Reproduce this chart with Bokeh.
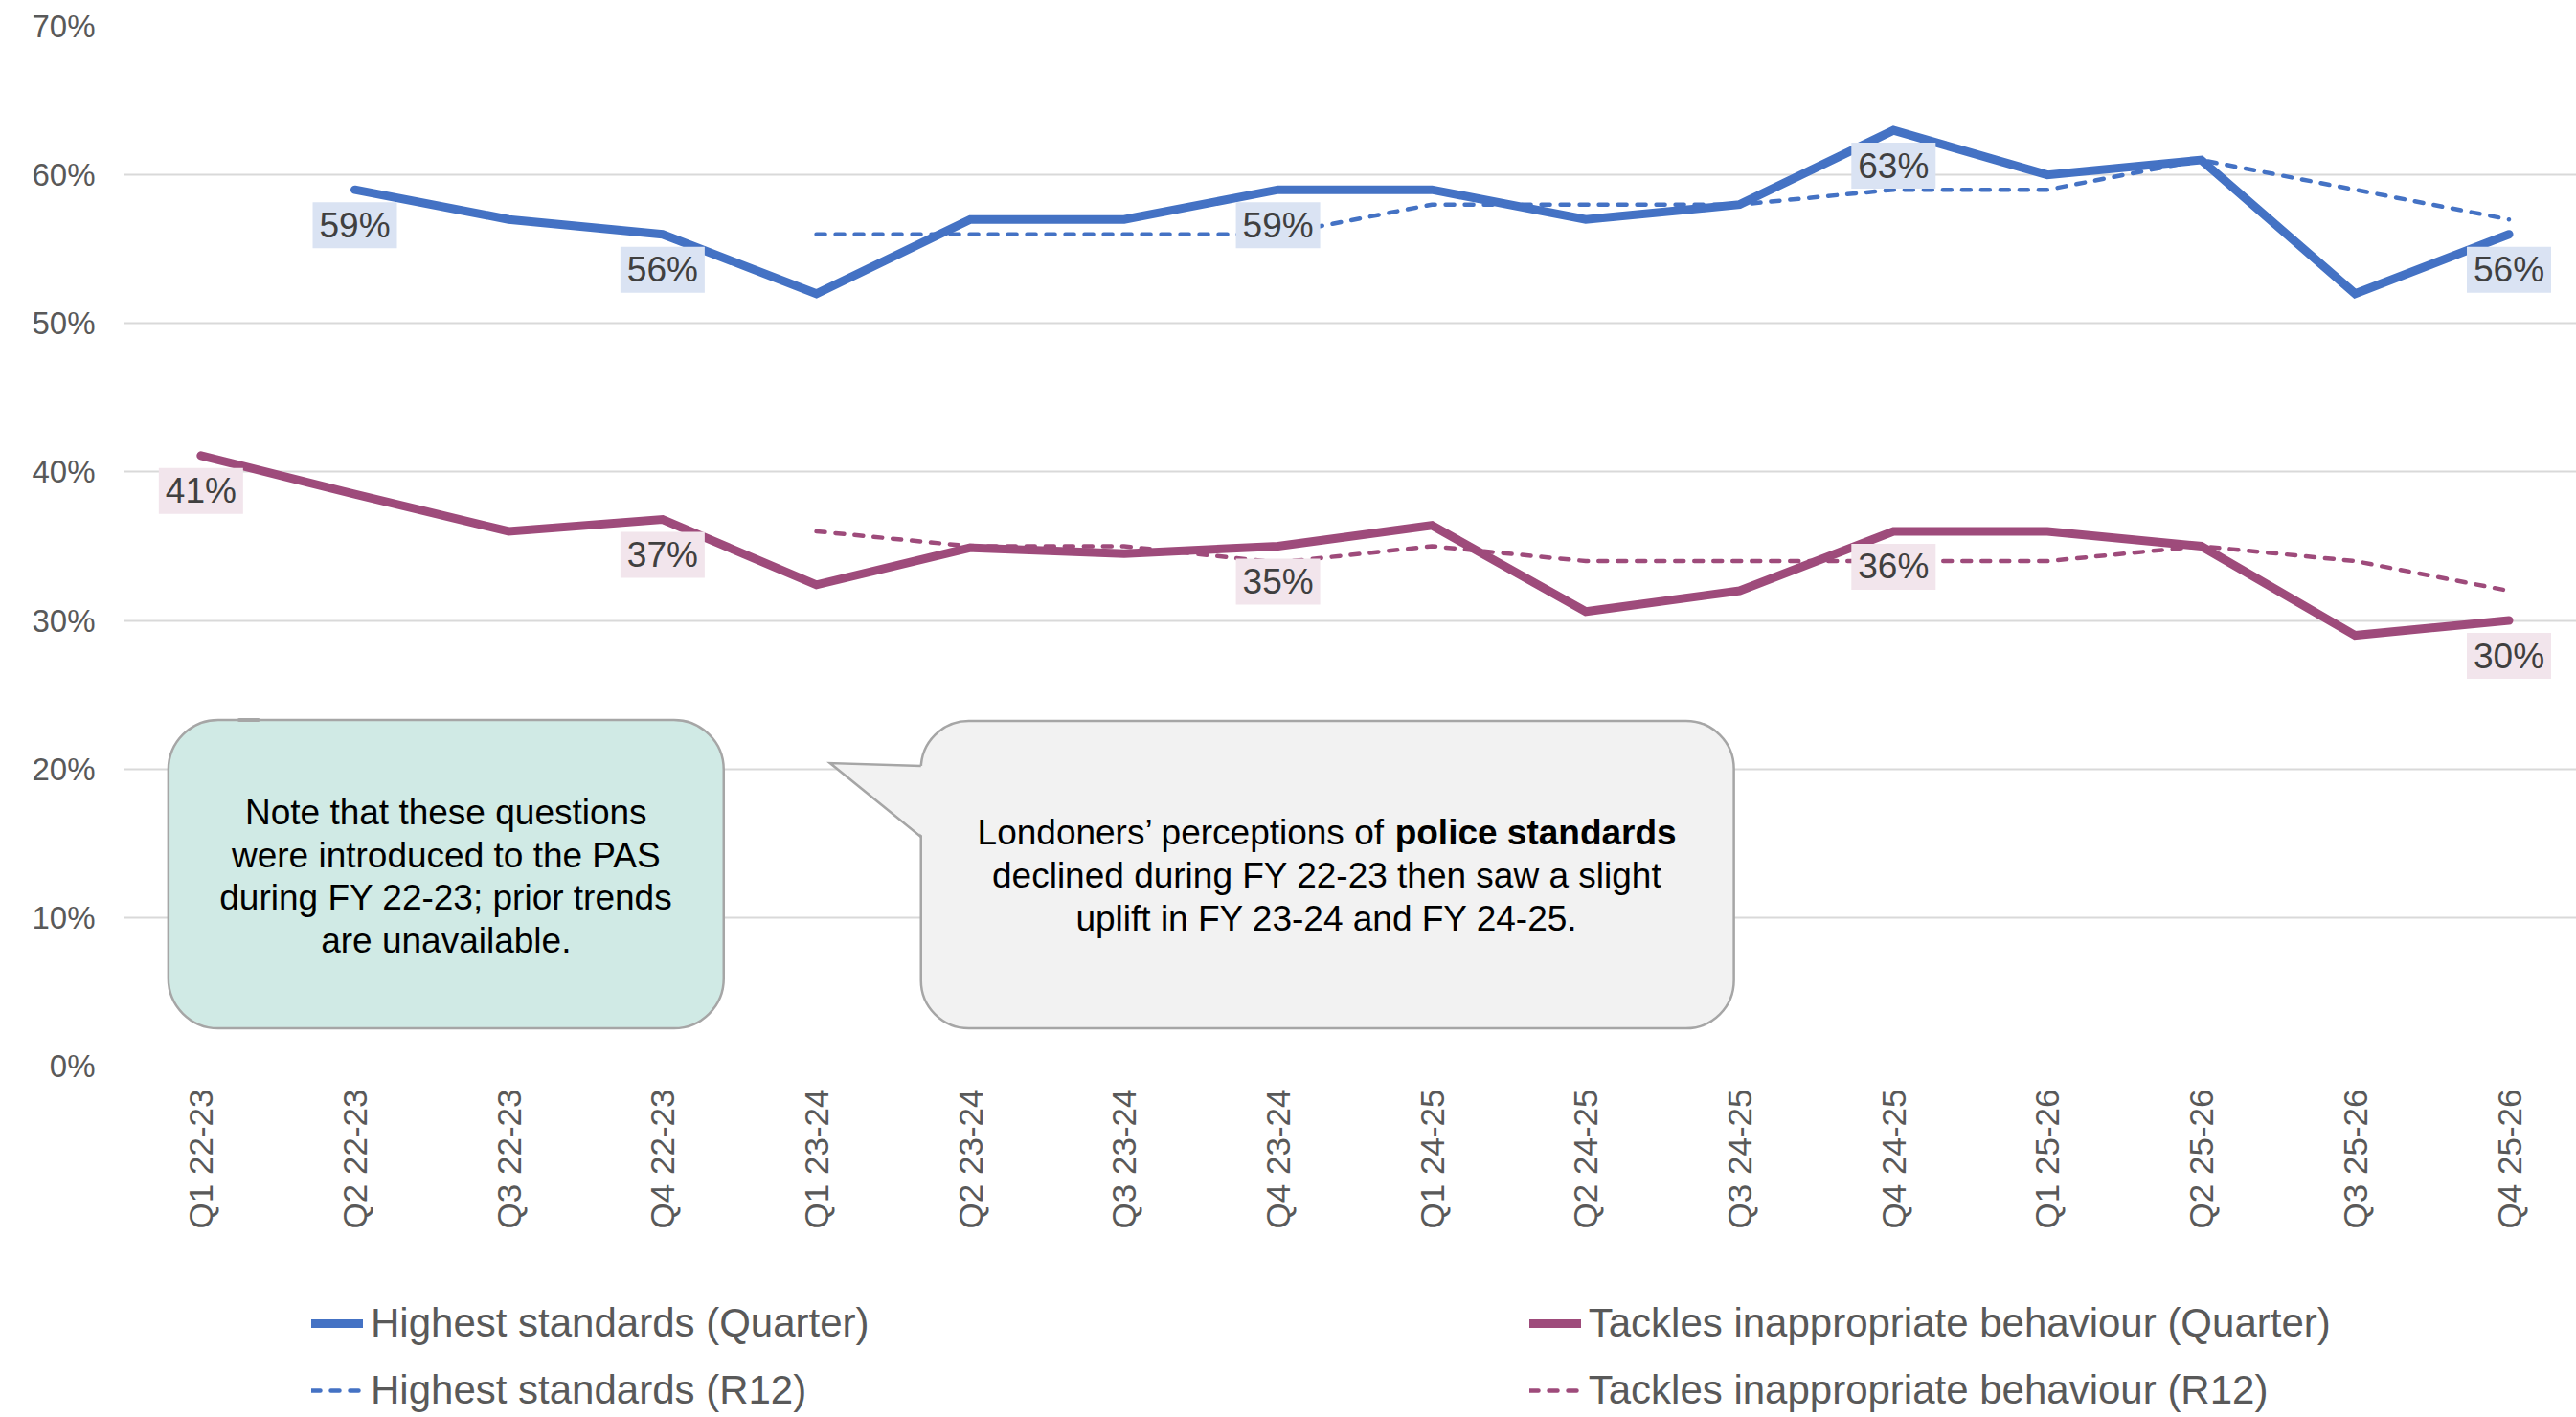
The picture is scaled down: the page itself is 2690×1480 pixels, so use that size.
import math
from bokeh.plotting import figure
from bokeh.layouts import column
from bokeh.models import FixedTicker, NumeralTickFormatter, Legend, LegendItem, BoxAnnotation
from bokeh.core.properties import value
from bokeh.embed import file_html
from bokeh.resources import INLINE

nan = float("nan")

# ---------------- data ----------------
categories = ["Q1 22-23", "Q2 22-23", "Q3 22-23", "Q4 22-23",
              "Q1 23-24", "Q2 23-24", "Q3 23-24", "Q4 23-24",
              "Q1 24-25", "Q2 24-25", "Q3 24-25", "Q4 24-25",
              "Q1 25-26", "Q2 25-26", "Q3 25-26", "Q4 25-26"]
hs_quarter = [nan, 59, 57, 56, 52, 57, 57, 59, 59, 57, 58, 63, 60, 61, 52, 56]
hs_r12 = [nan, nan, nan, nan, 56, 56, 56, 56, 58, 58, 58, 59, 59, 61, 59, 57]
tib_quarter = [41.1, 38.5, 36.0, 36.8, 32.4, 34.9, 34.5, 35.0, 36.4, 30.6, 32.0, 36.0, 36.0, 35.0, 29.0, 30.0]
tib_r12 = [nan, nan, nan, nan, 36.0, 35.0, 35.0, 33.9, 35.0, 34.0, 34.0, 34.0, 34.0, 35.0, 34.0, 32.0]
hs_label_idx = [1, 3, 7, 11, 15]
tib_label_idx = [0, 3, 7, 11, 15]
y_ticks = [0, 10, 20, 30, 40, 50, 60, 70]

series_names = ["Highest standards (Quarter)", "Highest standards (R12)",
                "Tackles inappropriate behaviour (Quarter)", "Tackles inappropriate behaviour (R12)"]

note_lines = ["Note that these questions", "were introduced to the PAS",
              "during FY 22-23; prior trends", "are unavailable."]
callout_first_plain = "Londoners\u2019 perceptions of"
callout_first_bold = "police standards"
callout_lines = ["declined during FY 22-23 then saw a slight", "uplift in FY 23-24 and FY 24-25."]

# ---------------- styling / geometry ----------------
W = 2690
H_MAIN, H_LEG = 1300, 180
FONT = "Liberation Sans"
BLUE = "#4472C4"
BERRY = "#9E4B7B"
GRID = "#D9D9D9"
AXIS_TXT = "#595959"
SOLID_W, DASH_W, DASH = 9, 4.5, "9 11"
FRAME_LEFT = 129

X0, DX = 209.0, 160.7     # px of first category centre, px per category
Y0, DY = 1113.4, 1551.0   # px of 0 %, px per 100 %


def fx(px):
    return (px - X0) / DX


def fy(py):
    return (Y0 - py) / DY


def frac(vals):
    return [v / 100 for v in vals]


xs = list(range(len(categories)))

p = figure(width=W, height=H_MAIN, output_backend="svg", toolbar_location=None,
           x_range=(-0.5, fx(W)), y_range=(0, 0.70),
           min_border_left=FRAME_LEFT, min_border_right=0, min_border_top=27,
           min_border_bottom=H_MAIN - 27 - 1086)
p.outline_line_color = None
p.background_fill_color = "white"
p.border_fill_color = "white"

# axes
p.yaxis.ticker = FixedTicker(ticks=[t / 100 for t in y_ticks])
p.yaxis.formatter = NumeralTickFormatter(format="0%")
p.yaxis.major_label_text_font = FONT
p.yaxis.major_label_text_font_size = "33px"
p.yaxis.major_label_text_color = AXIS_TXT
p.yaxis.major_label_standoff = 30
p.yaxis.axis_line_color = None
p.yaxis.major_tick_line_color = None
p.yaxis.minor_tick_line_color = None
p.yaxis.major_tick_out = 0
p.yaxis.major_tick_in = 0

p.xaxis.ticker = FixedTicker(ticks=xs)
p.xaxis.major_label_overrides = {i: c for i, c in enumerate(categories)}
p.xaxis.major_label_orientation = math.pi / 2
p.xaxis.major_label_text_font = FONT
p.xaxis.major_label_text_font_size = "35px"
p.xaxis.major_label_text_color = AXIS_TXT
p.xaxis.major_label_standoff = 24
p.xaxis.axis_line_color = None
p.xaxis.major_tick_line_color = None
p.xaxis.minor_tick_line_color = None
p.xaxis.major_tick_out = 0
p.xaxis.major_tick_in = 0

p.xgrid.visible = False
p.ygrid.ticker = FixedTicker(ticks=[t / 100 for t in y_ticks])
p.ygrid.grid_line_color = GRID
p.ygrid.grid_line_width = 2

# series
series = [
    (series_names[0], hs_quarter, BLUE, SOLID_W, "solid"),
    (series_names[1], hs_r12, BLUE, DASH_W, DASH),
    (series_names[2], tib_quarter, BERRY, SOLID_W, "solid"),
    (series_names[3], tib_r12, BERRY, DASH_W, DASH),
]
draw_order = [0, 2, 1, 3]
for k in draw_order:
    name, vals, color, lw, dash = series[k]
    p.line(xs, frac(vals), line_color=color, line_width=lw, line_dash=dash,
           line_cap="round", line_join="miter")

# data labels
LAB_OFF = 37 / DY
for idx, vals, fill in ((hs_label_idx, hs_quarter, "#DAE3F3"), (tib_label_idx, tib_quarter, "#F2E5EC")):
    ly = [vals[i] / 100 - LAB_OFF for i in idx]
    lt = [f"{round(vals[i])}%" for i in idx]
    p.rect(x=idx, y=ly, width=88, height=48, width_units="screen", height_units="screen",
           fill_color=fill, line_color=None)
    p.text(x=idx, y=ly, text=lt, text_align="center", text_baseline="middle",
           text_font=value(FONT), text_font_size="37px", text_color="#404040")

# note box
note_box = BoxAnnotation(left=fx(175), right=fx(755), top=fy(752), bottom=fy(1074),
                         fill_color="#D0EAE5", fill_alpha=1.0, line_color="#A6A6A6",
                         line_alpha=1.0, line_width=2.5, border_radius=52)
p.add_layout(note_box)
p.line([fx(249), fx(269)], [fy(752), fy(752)], line_color="#A6A6A6", line_width=4,
       line_cap="round", level="overlay")
note_cx, note_cy, LH = 465, 915.5, 44.5
n = len(note_lines)
p.text(x=[fx(note_cx)] * n,
       y=[fy(note_cy + (i - (n - 1) / 2) * LH) for i in range(n)],
       text=note_lines, text_align="center", text_baseline="middle",
       text_font=value(FONT), text_font_size="37px", text_color="black", level="overlay")

# callout box with pointer
call_box = BoxAnnotation(left=fx(961), right=fx(1810), top=fy(753), bottom=fy(1074),
                         fill_color="#F2F2F2", fill_alpha=1.0, line_color="#A6A6A6",
                         line_alpha=1.0, line_width=2.5, border_radius=50)
p.add_layout(call_box)
tip = (866, 797)
base_top = (961, 800)
base_bot = (961, 874)
p.patch([fx(tip[0]), fx(base_top[0] + 3), fx(base_bot[0] + 3)],
        [fy(tip[1]), fy(base_top[1]), fy(base_bot[1])],
        fill_color="#F2F2F2", line_color=None, level="overlay")
p.line([fx(base_top[0]), fx(tip[0]), fx(base_bot[0])],
       [fy(base_top[1]), fy(tip[1]), fy(base_bot[1])],
       line_color="#A6A6A6", line_width=2.5, line_join="miter", level="overlay")

call_cx = 1385
split_x = 1456
p.text(x=[fx(split_x - 10.3)], y=[fy(869)], text=[callout_first_plain], text_align="right",
       text_baseline="middle", text_font=value(FONT), text_font_size="37px", text_color="black",
       level="overlay")
p.text(x=[fx(split_x)], y=[fy(869)], text=[callout_first_bold], text_align="left",
       text_baseline="middle", text_font=value(FONT), text_font_size="37px", text_color="black",
       text_font_style="bold", level="overlay")
p.text(x=[fx(call_cx)] * 2, y=[fy(914.5), fy(959.5)], text=callout_lines, text_align="center",
       text_baseline="middle", text_font=value(FONT), text_font_size="37px", text_color="black",
       level="overlay")

# ---------------- legend strip (own figure under the chart) ----------------
lf = figure(width=W, height=H_LEG, output_backend="svg", toolbar_location=None,
            x_range=(100, 101), y_range=(0, 1), x_axis_location=None, y_axis_location=None,
            min_border_left=0, min_border_right=0, min_border_top=0, min_border_bottom=0)
lf.outline_line_color = None
lf.grid.visible = False
lf.background_fill_color = "white"
lf.border_fill_color = "white"

leg_renderers = []
for name, vals, color, lw, dash in series:
    leg_renderers.append(lf.line(xs, frac(vals), line_color=color, line_width=lw, line_dash=dash,
                                 line_cap="round", line_join="miter"))

LEG_TOP = 1356.7 - H_MAIN   # top of the legend block inside the strip
LEG_H = 50 + 20 + 50
for col, x_left in ((0, 325 - FRAME_LEFT), (1, 1596.7 - FRAME_LEFT)):
    items = [LegendItem(label=series[2 * col + r][0], renderers=[leg_renderers[2 * col + r]])
             for r in range(2)]
    lg = Legend(items=items, orientation="vertical",
                location=(x_left, H_LEG - LEG_TOP - LEG_H), margin=0, padding=0,
                spacing=20, glyph_width=54, glyph_height=50, label_height=50,
                label_standoff=8, label_text_font=FONT, label_text_font_size="42px",
                label_text_color=AXIS_TXT, border_line_color=None, background_fill_alpha=0)
    lf.add_layout(lg)

open("out.html", "w").write(file_html(column(p, lf), INLINE))
